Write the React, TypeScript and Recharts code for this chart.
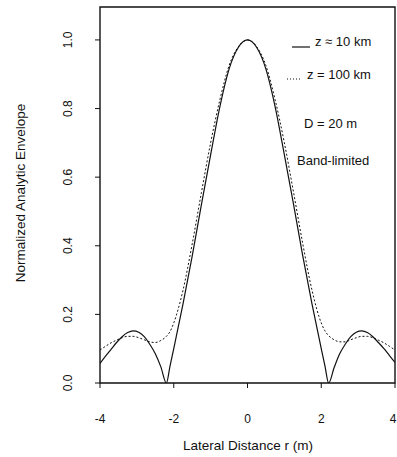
import React from "react";
import { LineChart, Line, XAxis, YAxis, ReferenceArea } from "recharts";

// Lateral distance r (m)
const rValues = [
  -4, -3.85, -3.7, -3.55, -3.4, -3.25, -3.1, -2.95, -2.8, -2.65, -2.5, -2.35, -2.2, -2.1, -2, -1.75, -1.5, -1.25, -1,
  -0.75, -0.5, -0.25, 0, 0.25, 0.5, 0.75, 1, 1.25, 1.5, 1.75, 2, 2.1, 2.2, 2.35, 2.5, 2.65, 2.8, 2.95, 3.1, 3.25, 3.4,
  3.55, 3.7, 3.85, 4,
];
// z ≈ 10 km (solid)
const near = [
  0.057, 0.078, 0.098, 0.118, 0.135, 0.147, 0.152, 0.148, 0.135, 0.113, 0.085, 0.047, 0.0, 0.05, 0.1, 0.23, 0.37, 0.52,
  0.665, 0.805, 0.915, 0.978, 1.0, 0.978, 0.915, 0.805, 0.665, 0.52, 0.37, 0.23, 0.1, 0.05, 0.0, 0.045, 0.085, 0.113,
  0.135, 0.148, 0.152, 0.147, 0.135, 0.118, 0.1, 0.08, 0.06,
];
// z = 100 km (dotted)
const far = [
  0.096, 0.107, 0.117, 0.125, 0.132, 0.136, 0.136, 0.132, 0.126, 0.12, 0.118, 0.124, 0.136, 0.15, 0.175, 0.27, 0.405,
  0.555, 0.7, 0.825, 0.925, 0.98, 1.0, 0.98, 0.925, 0.825, 0.7, 0.555, 0.405, 0.27, 0.175, 0.152, 0.138, 0.126, 0.12,
  0.12, 0.126, 0.132, 0.136, 0.136, 0.132, 0.125, 0.117, 0.107, 0.096,
];
const xTicks = [-4, -2, 0, 2, 4];
const yTicks = [0, 0.2, 0.4, 0.6, 0.8, 1.0];

const data = rValues.map((r, i) => ({ r, near: near[i], far: far[i] }));

const FONT = "'Liberation Sans', Arial, Helvetica, sans-serif";

const YTick = (props: any) => {
  const { y, payload } = props;
  const bx = 72;
  return (
    <text
      x={bx}
      y={y}
      transform={`rotate(-90, ${bx}, ${y})`}
      textAnchor="middle"
      fontSize={12}
      fontFamily={FONT}
      fill="#111"
    >
      {Number(payload.value).toFixed(1)}
    </text>
  );
};

const XTick = (props: any) => {
  const { x, payload } = props;
  return (
    <text x={x} y={423} textAnchor="middle" fontSize={12} fontFamily={FONT} fill="#111">
      {payload.value}
    </text>
  );
};

export default function App() {
  return (
    <div style={{ position: "fixed", left: 0, top: 0, width: 397, height: 457, background: "#fff" }}>
      <LineChart
        width={397}
        height={457}
        data={data}
        margin={{ top: 7, right: 2, bottom: 0, left: 0 }}
      >
        <XAxis
          dataKey="r"
          type="number"
          domain={[-4, 4]}
          ticks={xTicks}
          tick={<XTick />}
          tickSize={5}
          height={74}
          stroke="#111"
          axisLine={false}
          tickLine={{ stroke: "#111" }}
          allowDataOverflow
        />
        <YAxis
          type="number"
          domain={[0, 1.096]}
          ticks={yTicks}
          tick={<YTick />}
          tickSize={5}
          width={100}
          axisLine={false}
          tickLine={{ stroke: "#111" }}
          allowDataOverflow
        />
        <ReferenceArea
          x1={-4}
          x2={4}
          y1={0}
          y2={1.096}
          fill="none"
          stroke="#111"
          strokeWidth={1.4}
          ifOverflow="visible"
        />
        <Line
          type="monotone"
          dataKey="far"
          stroke="#111"
          strokeWidth={1}
          strokeDasharray="2 2"
          dot={false}
          isAnimationActive={false}
        />
        <Line
          type="monotone"
          dataKey="near"
          stroke="#111"
          strokeWidth={1.2}
          dot={false}
          isAnimationActive={false}
        />
      </LineChart>
      <svg
        width={397}
        height={457}
        style={{ position: "absolute", left: 0, top: 0, pointerEvents: "none" }}
        fontFamily={FONT}
        fill="#111"
      >
        <text x={25} y={193} transform="rotate(-90, 25, 193)" textAnchor="middle" fontSize={13.5}>
          Normalized Analytic Envelope
        </text>
        <text x={248} y={450} textAnchor="middle" fontSize={13.5}>
          Lateral Distance r (m)
        </text>
        <line x1={292} y1={47} x2={310} y2={47} stroke="#111" strokeWidth={1.2} />
        <text x={315} y={46} fontSize={13}>z ≈ 10 km</text>
        <line x1={287} y1={79} x2={302} y2={79} stroke="#111" strokeWidth={1} strokeDasharray="1 2" />
        <text x={307} y={79} fontSize={13}>z = 100 km</text>
        <text x={304} y={128} fontSize={13}>D = 20 m</text>
        <text x={297} y={165} fontSize={13}>Band-limited</text>
      </svg>
    </div>
  );
}
